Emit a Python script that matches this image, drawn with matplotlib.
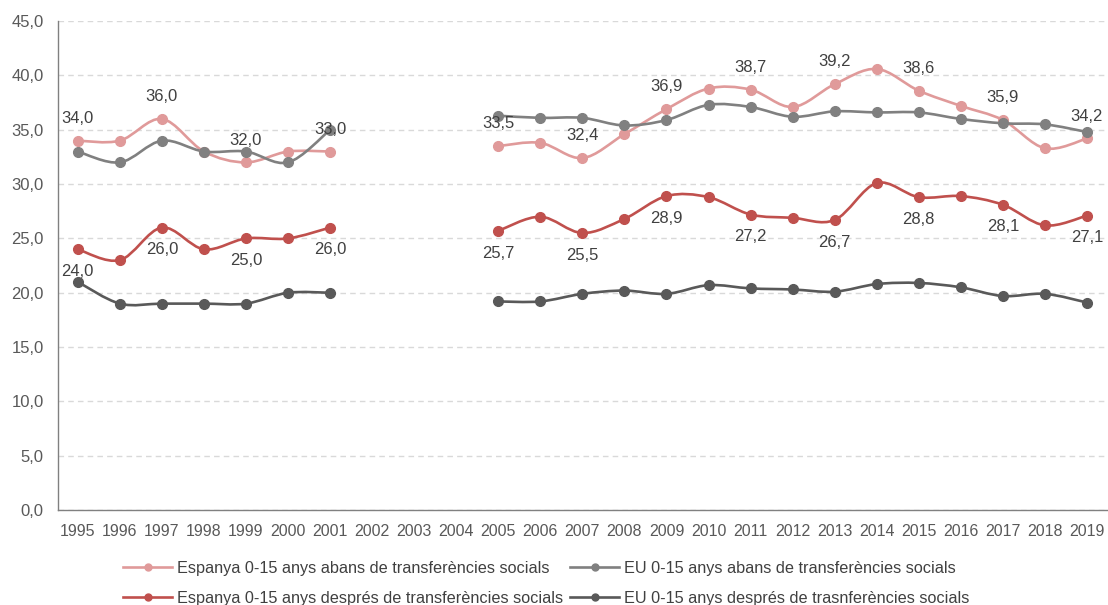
import matplotlib.pyplot as plt
import numpy as np
from matplotlib.path import Path
from matplotlib.patches import PathPatch
from matplotlib.lines import Line2D
from matplotlib.ticker import FuncFormatter

# Data
years = list(range(1995, 2020))
nan = np.nan
esp_abans = [34.0, 34.0, 36.0, 33.0, 32.0, 33.0, 33.0, nan, nan, nan,
             33.5, 33.8, 32.4, 34.6, 36.9, 38.8, 38.7, 37.1, 39.2, 40.6,
             38.6, 37.2, 35.9, 33.3, 34.2]
eu_abans = [33.0, 32.0, 34.0, 33.0, 33.0, 32.0, 35.0, nan, nan, nan,
            36.3, 36.1, 36.1, 35.4, 35.9, 37.3, 37.1, 36.2, 36.7, 36.6,
            36.6, 36.0, 35.6, 35.5, 34.8]
esp_despres = [24.0, 23.0, 26.0, 24.0, 25.0, 25.0, 26.0, nan, nan, nan,
               25.7, 27.0, 25.5, 26.8, 28.9, 28.8, 27.2, 26.9, 26.7, 30.1,
               28.8, 28.9, 28.1, 26.2, 27.1]
eu_despres = [21.0, 19.0, 19.0, 19.0, 19.0, 20.0, 20.0, nan, nan, nan,
              19.2, 19.2, 19.9, 20.2, 19.9, 20.7, 20.4, 20.3, 20.1, 20.8,
              20.9, 20.5, 19.7, 19.9, 19.1]

labels = ["Espanya 0-15 anys abans de transferències socials",
          "EU 0-15 anys abans de transferències socials",
          "Espanya 0-15 anys després de transferències socials",
          "EU 0-15 anys després de trasnferències socials"]
colors = ['#E09A9A', '#808080', '#C0504D', '#595959']

plt.rcParams['font.family'] = ['Liberation Sans', 'DejaVu Sans']
plt.rcParams['font.size'] = 12

fig = plt.figure(figsize=(11.08, 6.05), dpi=100)
ax = fig.add_axes([0.052, 0.157, 0.948, 0.808])


def smooth_path(xs, ys):
    # Catmull-Rom style bezier through the points (Excel smoothed line look)
    verts = [(xs[0], ys[0])]
    codes = [Path.MOVETO]
    n = len(xs)
    for i in range(n - 1):
        x0, y0 = (xs[i - 1], ys[i - 1]) if i > 0 else (xs[i], ys[i])
        x1, y1 = xs[i], ys[i]
        x2, y2 = xs[i + 1], ys[i + 1]
        x3, y3 = (xs[i + 2], ys[i + 2]) if i + 2 < n else (x2, y2)
        c1 = (x1 + (x2 - x0) / 6.0, y1 + (y2 - y0) / 6.0)
        c2 = (x2 - (x3 - x1) / 6.0, y2 - (y3 - y1) / 6.0)
        verts += [c1, c2, (x2, y2)]
        codes += [Path.CURVE4] * 3
    return Path(verts, codes)


series = [esp_abans, eu_abans, esp_despres, eu_despres]
for vals, col in zip(series, colors):
    xs = np.array(years, dtype=float)
    ys = np.array(vals, dtype=float)
    ok = ~np.isnan(ys)
    # split into contiguous segments
    seg_x, seg_y = [], []
    for x, y, good in zip(xs, ys, ok):
        if good:
            seg_x.append(x)
            seg_y.append(y)
        elif seg_x:
            ax.add_patch(PathPatch(smooth_path(seg_x, seg_y), fill=False,
                                   edgecolor=col, lw=1.9, zorder=3))
            seg_x, seg_y = [], []
    if seg_x:
        ax.add_patch(PathPatch(smooth_path(seg_x, seg_y), fill=False,
                               edgecolor=col, lw=1.9, zorder=3))
    ax.plot(xs[ok], ys[ok], linestyle='none', marker='o', markersize=7,
            color=col, zorder=4)

# data labels at odd years
for x, v in zip(years, esp_abans):
    if x % 2 == 1 and not np.isnan(v):
        ax.annotate(f"{v:.1f}".replace('.', ','), (x, v), xytext=(0, 16),
                    textcoords='offset points', ha='center', va='center',
                    color='#404040', fontsize=12, zorder=5)
for x, v in zip(years, esp_despres):
    if x % 2 == 1 and not np.isnan(v):
        ax.annotate(f"{v:.1f}".replace('.', ','), (x, v), xytext=(0, -16),
                    textcoords='offset points', ha='center', va='center',
                    color='#404040', fontsize=12, zorder=5)

ax.set_xlim(1994.52, 2019.5)
ax.set_ylim(0, 45)
ax.set_yticks(np.arange(0, 46, 5))
ax.yaxis.set_major_formatter(FuncFormatter(lambda v, p: f"{v:.1f}".replace('.', ',')))
ax.set_xticks(years)
ax.set_xticklabels([str(y) for y in years])
ax.tick_params(axis='both', length=0, colors='#595959')
ax.tick_params(axis='x', pad=10, labelsize=11.5)
ax.tick_params(axis='y', pad=10, labelsize=12)

ax.grid(axis='y', linestyle=(0, (4, 3)), color='#D9D9D9', linewidth=1)
ax.set_axisbelow(True)
for s in ['top', 'right']:
    ax.spines[s].set_visible(False)
for s in ['left', 'bottom']:
    ax.spines[s].set_color('#808080')
    ax.spines[s].set_linewidth(1)

handles = [Line2D([], [], color=c, lw=1.9, marker='o', markersize=5) for c in colors]
# legend fills by column, so reorder to get row-wise layout
order = [0, 2, 1, 3]
fig.legend([handles[i] for i in order], [labels[i] for i in order],
           loc='lower center', bbox_to_anchor=(0.493, -0.026),
           ncol=2, frameon=False, fontsize=11.7, handlelength=3.0,
           columnspacing=0.45, handletextpad=0.3, labelspacing=0.95,
           labelcolor='#404040')

fig.savefig("out.png", dpi=100)
